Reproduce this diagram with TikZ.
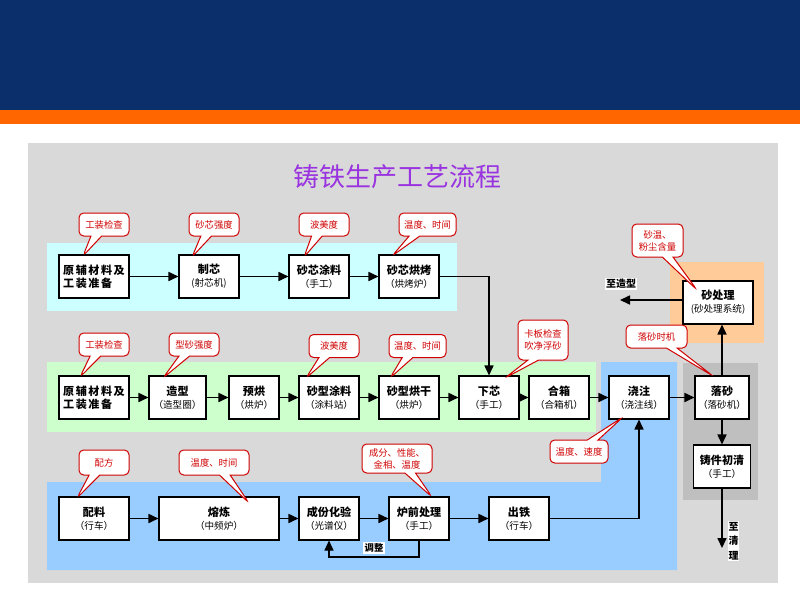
\documentclass[tikz,border=0pt]{standalone}
\usepackage{fontspec}
\setmainfont{Noto Sans CJK SC}
\usetikzlibrary{arrows.meta,shapes.callouts}
\definecolor{navy}{HTML}{0B2F6A}
\definecolor{orng}{HTML}{FF6600}
\definecolor{panel}{HTML}{D9D9D9}
\definecolor{cyanbg}{HTML}{CCFFFF}
\definecolor{greenbg}{HTML}{CCFFCC}
\definecolor{bluebg}{HTML}{99CCFF}
\definecolor{orangebg}{HTML}{FFCC99}
\definecolor{darkbg}{HTML}{BFBFBF}
\definecolor{notered}{HTML}{D00000}
\definecolor{titlepurple}{HTML}{9933E0}
\newcommand{\bx}[2]{{\bfseries #1}\\{\fontsize{7.2}{9.75}\selectfont #2}}
\tikzset{
  wh/.style 2 args={minimum width=#1*0.75pt, minimum height=#2*0.75pt},
  box/.style={draw=black, fill=white, line width=0.8pt, inner sep=0pt, align=center,
    font=\fontsize{8.3}{9.75}\selectfont},
  note/.style={rectangle callout, draw=notered, fill=white, line width=0.75pt,
    rounded corners=3.5pt, inner sep=0pt, align=center, text=notered,
    callout pointer width=8pt, font=\fontsize{7}{9}\selectfont},
  flow/.style={draw=black, line width=1.1pt, -{Triangle[length=7.5pt,width=6.8pt]}},
  tag/.style={fill=white, inner sep=1pt, font=\bfseries\fontsize{7.5}{9}\selectfont}
}
\begin{document}
\begin{tikzpicture}[x=0.75pt,y=-0.75pt]
\useasboundingbox (0,0) rectangle (800,600);
% banner and panels
\fill[white] (0,0) rectangle (800,600);
\fill[navy] (0,0) rectangle (800,110);
\fill[orng] (0,110) rectangle (800,124);
\fill[panel] (28,143) rectangle (778,583);
\fill[cyanbg] (47,243) rectangle (457,311);
\fill[greenbg] (47,362) rectangle (596,432);
\fill[bluebg] (47,482) -- (601,482) -- (601,362) -- (677,362) -- (677,570) -- (47,570) -- cycle;
\fill[orangebg] (670,262) rectangle (764,343);
\fill[darkbg] (683,363) rectangle (758,500);
\node[text=titlepurple, font=\fontsize{19.5}{22}\selectfont] (title) at (397,177) {铸铁生产工艺流程};
% top row
\node[box, wh={70}{43}, font=\bfseries\fontsize{8.3}{9.75}\selectfont\addfontfeature{LetterSpace=14}, align=left] (a1) at (94,276.5) {原辅材料及\\工装准备};
\node[box, wh={60}{43}] (a2) at (209,276.5) {\bx{制芯}{(射芯机)}};
\node[box, wh={60}{43}] (a3) at (319,276.5) {\bx{砂芯涂料}{（手工）}};
\node[box, wh={60}{43}] (a4) at (409,276.5) {\bx{砂芯烘烤}{（烘烤炉）}};
% middle row
\node[box, wh={70}{43}, font=\bfseries\fontsize{8.3}{9.75}\selectfont\addfontfeature{LetterSpace=14}, align=left] (b1) at (94,397.5) {原辅材料及\\工装准备};
\node[box, wh={57}{43}] (b2) at (177.5,397.5) {\bx{造型}{（造型圈）}};
\node[box, wh={50}{43}] (b3) at (254,397.5) {\bx{预烘}{（烘炉）}};
\node[box, wh={60}{43}] (b4) at (329,397.5) {\bx{砂型涂料}{（涂料站）}};
\node[box, wh={60}{43}] (b5) at (409,397.5) {\bx{砂型烘干}{（烘炉）}};
\node[box, wh={60}{43}] (b6) at (489,397.5) {\bx{下芯}{（手工）}};
\node[box, wh={60}{43}] (b7) at (559,397.5) {\bx{合箱}{（合箱机）}};
\node[box, wh={60}{43}] (p) at (639,397.5) {\bx{浇注}{（浇注线）}};
\node[box, wh={54}{43}] (l) at (722,397.5) {\bx{落砂}{（落砂机）}};
\node[box, wh={57}{43}] (q) at (722,466.5) {\bx{铸件初清}{（手工）}};
\node[box, wh={70}{43}] (s) at (718,302.5) {\bx{砂处理}{(砂处理系统)}};
% bottom row
\node[box, wh={70}{43}] (c1) at (94,518.5) {\bx{配料}{（行车）}};
\node[box, wh={120}{43}] (c2) at (219,518.5) {\bx{熔炼}{（中频炉）}};
\node[box, wh={60}{43}] (c3) at (329,518.5) {\bx{成份化验}{（光谱仪）}};
\node[box, wh={60}{43}] (c4) at (419,518.5) {\bx{炉前处理}{（手工）}};
\node[box, wh={60}{43}] (c5) at (519,518.5) {\bx{出铁}{（行车）}};
% connectors
\draw[flow] (a1) -- (a2);
\draw[flow] (a2) -- (a3);
\draw[flow] (a3) -- (a4);
\draw[flow] (a4.east) -| (b6.north);
\draw[flow] (b1) -- (b2);
\draw[flow] (b2) -- (b3);
\draw[flow] (b3) -- (b4);
\draw[flow] (b4) -- (b5);
\draw[flow] (b5) -- (b6);
\draw[flow] (b6) -- (b7);
\draw[flow] (b7) -- (p);
\draw[flow] (p) -- (l);
\draw[flow] (l) -- (q);
\draw[flow] (l.north) -- (l.north |- s.south);
\coordinate (tomold) at (620,300);
\draw[flow] (s.west |- tomold) -- (tomold);
\node[tag] (tomoldlbl) at (621,284) {至造型};
\coordinate (toclean) at (722,548);
\draw[flow] (q.south) -- (toclean);
\node[tag, align=center, font=\bfseries\fontsize{7.5}{11}\selectfont, inner sep=0.5pt] (tocleanlbl) at (733.5,541) {至\\清\\理};
\draw[flow] (c1) -- (c2);
\draw[flow] (c2) -- (c3);
\draw[flow] (c3) -- (c4);
\draw[flow] (c4) -- (c5);
\draw[flow] (c5.east) -| (p.south);
\coordinate (fb) at (419,557);
\draw[draw=black, line width=0.8pt, -{Triangle[length=7.5pt,width=6.8pt]}] (c4.south) -- (fb) -| (c3.south);
\node[tag, font=\bfseries\fontsize{7}{9}\selectfont] (adj) at (374,548) {调整};
% callouts
\node[note, wh={50}{23}, callout absolute pointer={(83,256)}] (n1) at (104,224.5) {工装检查};
\node[note, wh={50}{23}, callout absolute pointer={(192,257)}] (n2) at (214,224.5) {砂芯强度};
\node[note, wh={50}{23}, callout absolute pointer={(304,257)}] (n3) at (324,224.5) {波美度};
\node[note, wh={57}{23}, callout absolute pointer={(392,256)}] (n4) at (427.5,224.5) {温度、时间};
\node[note, wh={50}{23}, callout absolute pointer={(80,377)}] (m1) at (104,344.5) {工装检查};
\node[note, wh={50}{23}, callout absolute pointer={(163,378)}] (m2) at (194,344.5) {型砂强度};
\node[note, wh={50}{23}, callout absolute pointer={(306,378)}] (m3) at (334,346) {波美度};
\node[note, wh={57}{23}, callout absolute pointer={(390,378)}] (m4) at (417.5,346) {温度、时间};
\node[note, wh={50}{40}, callout absolute pointer={(505,378)}] (m5) at (543,340) {卡板检查\\吹净浮砂};
\node[note, wh={50}{25}, callout absolute pointer={(77,498)}] (k1) at (104,462.5) {配方};
\node[note, wh={70}{25}, callout absolute pointer={(249,503)}] (k2) at (214,462.5) {温度、时间};
\node[note, wh={70}{29}, callout absolute pointer={(432,497)}] (k3) at (397,458.5) {成分、性能、\\金相、温度};
\node[note, wh={51}{33}, callout absolute pointer={(697,290)}] (r1) at (657.5,240.5) {砂温、\\粉尘含量};
\node[note, wh={61}{23}, callout absolute pointer={(713,376)}] (r2) at (656.5,336.5) {落砂时机};
\node[note, wh={58}{23}, callout absolute pointer={(623,417)}] (r3) at (579,451.5) {温度、速度};
\end{tikzpicture}
\end{document}
